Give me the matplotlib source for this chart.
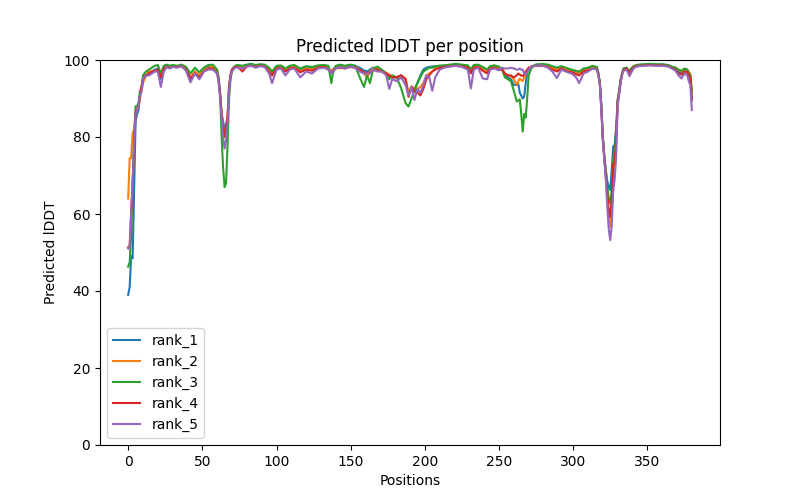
import matplotlib
matplotlib.use("Agg")
import matplotlib.pyplot as plt

positions = [0, 1, 2, 3, 4, 5, 6, 7, 8, 9, 10, 12,
             14, 16, 18, 20, 22, 24, 26, 28, 30, 33, 36, 39, 42, 45, 48, 51, 54, 57,
             60, 61, 62, 63, 64, 65, 66, 67, 68, 69, 70, 72,
             74, 77, 80, 83, 86, 89, 92, 95, 97, 100, 103, 106, 109, 112, 116, 120, 124, 128, 132,
             135, 137, 138, 140, 143, 146, 150, 153, 156, 159, 161, 163, 165, 168,
             171, 174, 176, 178, 181, 184, 187, 189, 191, 193, 195, 197, 199, 201, 203, 205, 207, 210,
             213, 217, 221, 225, 229, 231, 233, 236, 239, 242, 244, 247, 250,
             252, 254, 256, 258, 260, 262, 263, 264, 265, 266, 267, 268, 269, 270, 272,
             275, 279, 283, 286, 289, 292, 295, 299, 302, 304, 307, 310, 313, 316,
             317, 318, 319, 320, 321, 322, 323, 324, 325, 326, 327, 328, 329, 330, 331, 332, 333, 334, 336, 338, 339, 341,
             344, 348, 352, 356, 360, 364, 367, 369, 371, 373, 375, 377, 378, 379, 380]

rank_1 = [39, 41, 49, 48.5, 66, 84, 86, 87, 91, 92, 95, 96,
          96.5, 97, 97.5, 97.8, 95, 97.5, 98.5, 98.2, 98.5, 98.3, 98.6, 97.8, 94.5, 97, 95.5, 97.5, 98.2, 98.3,
          97, 95, 91, 86, 84, 82, 83, 85, 93, 96, 97.5, 98.3,
          98.5, 98.3, 98.7, 98.8, 98.5, 98.8, 98.6, 97.5, 96.5, 98.2, 98.4, 97.5, 98.3, 98.5, 97.5, 98.2, 97.8, 98.4, 98.5,
          98, 97, 97.5, 98.3, 98.5, 98.3, 98.6, 98.5, 98, 97.3, 97, 97.5, 98, 98,
          97.2, 96.5, 96, 95.5, 95.5, 96, 95, 91, 93, 92.5, 94, 96, 97.5, 98, 98.2, 98.3, 98.4, 98.5,
          98.5, 98.7, 98.8, 98.6, 98.5, 97.5, 98.5, 98.6, 98, 97.5, 98.2, 98.5, 98,
          97.8, 96, 95.5, 95, 93.5, 93.5, 93.8, 91.5, 90.8, 90, 90.5, 94, 96.5, 97.5, 98.3,
          98.8, 98.8, 98.5, 98.2, 97.8, 98.2, 97.8, 97.3, 97, 96.8, 97.5, 97.8, 98.3, 98,
          96.5, 94, 88, 80, 75, 71.5, 68.5, 67, 66.2, 71.4, 77.5, 78, 82.5, 89.6, 92, 94.8, 96.5, 97.8, 98, 96.8, 97.5, 98.3,
          98.7, 98.8, 98.9, 98.8, 98.8, 98.6, 98, 97.8, 97, 96.5, 97.2, 97, 96, 95.5, 90]

rank_2 = [64, 74.5, 74.5, 81, 82, 86.5, 87, 88, 90, 92, 94, 96,
          97, 97, 97.2, 97.5, 96, 97.5, 98.2, 98, 98.3, 98.2, 98.4, 97.8, 95.5, 97, 96, 97.5, 98, 98.2,
          97, 95, 91, 86, 83, 80.5, 82, 85, 93, 96, 97.5, 98.3,
          98.3, 98, 98.5, 98.6, 98.3, 98.6, 98.4, 97.3, 96, 98, 98.2, 97.2, 98, 98.3, 97, 97.8, 97.5, 98.2, 98.3,
          97.8, 96.8, 97.5, 98, 98.3, 98, 98.5, 98.3, 97.5, 96.5, 95.5, 97, 97.8, 97.8,
          97.2, 96.7, 96.2, 95.8, 95.5, 96, 95.2, 91.5, 93.2, 92.5, 92.5, 93, 94, 96, 96.5, 97, 97.8, 98.2,
          98.3, 98.5, 98.6, 98.4, 98.2, 97, 98.3, 98.4, 97.5, 97, 98, 98.3, 97.8,
          97.8, 96.5, 96, 95.8, 95, 93.5, 94.5, 95.2, 94.8, 94.5, 95.5, 96, 97, 97.8, 98.3,
          98.6, 98.6, 98.4, 98, 97.5, 98, 97.5, 97, 96.5, 96.5, 97.2, 97.5, 98, 97.8,
          96.3, 94, 87.8, 79.8, 74.8, 70, 64, 59, 56.7, 61.5, 71, 72, 79, 89, 91.5, 94.5, 96.3, 97.5, 97.8, 96.5, 97.3, 98.2,
          98.6, 98.7, 98.8, 98.7, 98.7, 98.5, 98.2, 98, 97.5, 97, 97.6, 97.5, 96.8, 96.5, 91.5]

rank_3 = [46.3, 47.5, 54.5, 68, 79, 88, 88, 89, 92, 93, 96, 97,
          97.5, 98, 98.5, 98.7, 96.5, 98.5, 98.8, 98.5, 98.7, 98.5, 98.8, 98.2, 96.5, 98, 96.8, 98, 98.7, 98.8,
          97.5, 95.5, 91, 80, 72, 67, 68, 78, 90, 95, 97.5, 98.5,
          98.7, 98.5, 98.8, 99, 98.7, 98.9, 98.8, 98, 97, 98.5, 98.6, 97.8, 98.5, 98.7, 97.8, 98.4, 98.2, 98.6, 98.7,
          98.5, 94, 96.5, 98.5, 98.8, 98.5, 98.8, 98.5, 95.6, 93, 96, 94, 97.5, 98.3,
          97.5, 96.5, 95, 96, 95.5, 92.7, 88.8, 87.9, 90, 92, 94, 95.5, 97, 97.5, 98, 98, 98.3, 98.5,
          98.6, 98.8, 99, 98.8, 98.6, 97.5, 98.7, 98.8, 98.2, 97.5, 98.4, 98.6, 98.3,
          97.5, 95.5, 95, 94.5, 92, 89.2, 89.5, 89.8, 86, 81.4, 86, 85, 90, 96, 98,
          98.8, 99, 98.8, 98.4, 98, 98.4, 98, 97.5, 97.2, 97, 97.8, 98, 98.5, 98.2,
          96.5, 94, 88, 80, 75, 71, 67, 64, 62.8, 66, 74, 77, 81, 89.5, 92, 94.8, 96.5, 97.8, 98, 97, 97.8, 98.5,
          98.8, 98.9, 99, 98.9, 98.9, 98.7, 98.2, 98, 97.5, 97.2, 97.8, 97.5, 96.5, 96, 92]

rank_4 = [51.4, 51.7, 60, 68, 78, 86.5, 87, 88, 91, 93, 95, 96,
          96.5, 97, 97.2, 97.5, 95.5, 97.8, 98.3, 98, 98.2, 98.2, 98.4, 97.5, 95.2, 96.5, 95.5, 97, 97.8, 97.8,
          96.5, 94.5, 91, 86, 82, 80, 83, 85, 93, 96, 97.5, 98.2,
          98.2, 97, 98.4, 98.5, 98.2, 98.5, 98.3, 97, 96, 97.8, 98, 97, 97.8, 98, 96.8, 97.5, 97.2, 98, 98.2,
          97.5, 96.8, 97.2, 97.8, 98, 97.8, 98.2, 98, 97.5, 96.8, 96.5, 96.8, 97.3, 97.5,
          97, 96.5, 96, 95.5, 95.5, 96, 95, 90.4, 93, 92, 91.5, 90.8, 92.5, 95, 96, 97, 97.5, 98,
          98.2, 98.4, 98.5, 98.3, 98, 96.5, 98, 98.2, 97.2, 96.5, 97.8, 98, 97.5,
          97.5, 96.5, 96, 96, 95.5, 96, 96.5, 96.2, 96, 95.8, 96.3, 97, 97.5, 98, 98.3,
          98.5, 98.5, 98.2, 97.5, 97, 97.8, 97.2, 96.8, 96.3, 96, 97, 97.3, 97.8, 97.6,
          96.2, 93.8, 87.5, 79.5, 74.5, 70, 65, 61, 59.3, 64, 73, 73, 80, 89, 91.5, 94.5, 96.3, 97.5, 97.8, 96.5, 97.3, 98.2,
          98.5, 98.6, 98.7, 98.6, 98.6, 98.4, 97.8, 97.5, 96.5, 96.2, 97, 96.8, 96, 95.5, 89.5]

rank_5 = [51, 51.5, 60.5, 68, 78, 86, 87, 88, 91, 92, 95, 96,
          96, 96.5, 97, 97, 93, 97, 98.2, 97.8, 98.2, 98, 98.4, 97.2, 94.2, 96.5, 95, 97, 97.5, 97.5,
          96.5, 94, 90, 85, 80, 77, 79, 84, 92, 95.5, 97, 98,
          98, 97.8, 98.3, 98.5, 98, 98.4, 98.2, 96.5, 94, 97.5, 97.8, 96, 97.5, 97.8, 95.5, 97, 96.5, 97.8, 98,
          97.5, 96.5, 97, 97.8, 98.2, 97.8, 98.3, 98, 97, 96.5, 96.5, 96.5, 97.5, 97,
          97, 96, 92.5, 95, 94.5, 95.5, 93.5, 90.8, 93, 89.6, 92.5, 91.5, 93.5, 96, 95.5, 92, 95.5, 97.5,
          98, 98.3, 98.5, 98.2, 97.5, 92.6, 97.5, 98, 95.2, 95, 97.5, 97.8, 97.3,
          98, 97.8, 97.8, 98, 97.8, 97.5, 97.5, 97.8, 97.5, 97.5, 96.5, 96.2, 96.8, 97.5, 98.3,
          98.5, 98.6, 98, 97, 95.3, 97.5, 97, 96.5, 95.5, 94, 96.5, 97, 97.8, 97.5,
          96, 93.5, 87, 79, 74, 69, 62, 56, 53.2, 57, 66, 69, 75, 88, 91, 94, 96, 97.2, 97.5, 95.8, 96.6, 98,
          98.4, 98.5, 98.6, 98.5, 98.5, 98.3, 97.7, 97.2, 96, 95.2, 96.5, 96, 94.4, 93.5, 87]

labels = ["rank_1", "rank_2", "rank_3", "rank_4", "rank_5"]

plt.figure(figsize=(8, 5), dpi=100)
plt.title("Predicted lDDT per position")
for vals, lab in zip([rank_1, rank_2, rank_3, rank_4, rank_5], labels):
    plt.plot(positions, vals, label=lab)
plt.legend(loc="lower left")
plt.ylim(0, 100)
plt.ylabel("Predicted lDDT")
plt.xlabel("Positions")
plt.savefig("out.png", dpi=100)
